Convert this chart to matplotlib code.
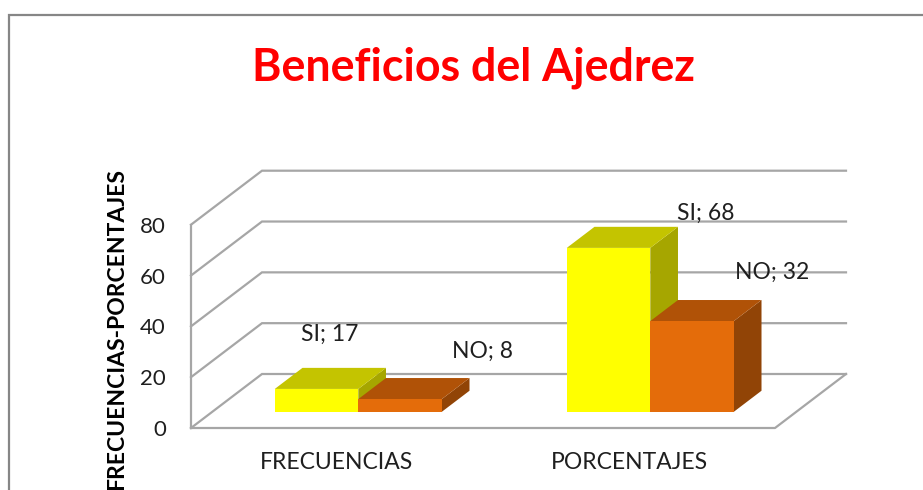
import matplotlib
matplotlib.use("Agg")
import matplotlib.pyplot as plt
from matplotlib.patches import Polygon, Rectangle

categories = ["FRECUENCIAS", "PORCENTAJES"]
series_names = ["SI", "NO"]
label_si = [17, 68]
label_no = [8, 32]
# heights as drawn in the picture (differ from the printed labels)
height_si = [9, 64.5]
height_no = [5, 35.7]
y_ticks = [0, 20, 40, 60, 80]

W, H = 923, 490
plt.rcParams["font.family"] = ["Lato", "Open Sans", "DejaVu Sans"]
fig = plt.figure(figsize=(W / 100, H / 100), dpi=100)
fig.patch.set_facecolor("white")

# Outer chart frame (runs off the right and bottom edges of the picture)
fig.add_artist(Rectangle((9 / W, -0.05), 1.05, 1.05 - 15 / H, transform=fig.transFigure,
                         fill=False, ec="#868686", lw=1.6))

L, R, B, T = 191, 775, 428, 224.7
ax = fig.add_axes([L / W, 1 - B / H, (R - L) / W, (B - T) / H])
ax.set_xlim(0, 2)
ax.set_ylim(0, 80)
ax.patch.set_visible(False)
for s in ax.spines.values():
    s.set_visible(False)

PX = (R - L) / 2
PY = (B - T) / 80
DX, DY = 71 / PX, 54 / PY


def proj(x, v, d):
    return (x + d * DX, v + d * DY)


grid = "#A6A6A6"
for v in y_ticks:
    pts = [proj(0, v, 0), proj(0, v, 1), proj(2, v, 1)]
    ax.plot(*zip(*pts), color=grid, lw=1.6, clip_on=False, zorder=1, solid_joinstyle="miter")
ax.plot(*zip(proj(0, 0, 0), proj(2, 0, 0), proj(2, 0, 1)), color=grid, lw=1.6, clip_on=False, zorder=1)
ax.plot([0, 0], [0, 80], color=grid, lw=1.6, clip_on=False, zorder=1)

bar_w = 0.286
d0, d1 = 0.30, 0.69


def bar3d(x0, h, front, top, side, z):
    x1 = x0 + bar_w
    ax.add_patch(Polygon([proj(x1, 0, d0), proj(x1, 0, d1), proj(x1, h, d1), proj(x1, h, d0)],
                         fc=side, ec="none", zorder=z, clip_on=False))
    ax.add_patch(Polygon([proj(x0, h, d0), proj(x1, h, d0), proj(x1, h, d1), proj(x0, h, d1)],
                         fc=top, ec="none", zorder=z, clip_on=False))
    ax.add_patch(Polygon([proj(x0, 0, d0), proj(x1, 0, d0), proj(x1, h, d0), proj(x0, h, d0)],
                         fc=front, ec="none", zorder=z, clip_on=False))


for i in range(len(categories)):
    bar3d(i + 0.5 - bar_w, height_si[i], "#FFFF00", "#C4C400", "#A6A600", 3)
    bar3d(i + 0.5, height_no[i], "#E46C0A", "#B05207", "#914406", 4)

txt = "#1F1F1F"
lab_off_si = [(0.117, 28.0), (0.406, 20.1)]
lab_off_no = [(0.355, 25.0), (0.347, 25.5)]
for i in range(len(categories)):
    dx, dv = lab_off_si[i]
    ax.text(i + 0.5 - bar_w / 2 + dx, height_si[i] + dv, f"{series_names[0]}; {label_si[i]}",
            ha="center", va="center", fontsize=16.5, color=txt, zorder=6, clip_on=False)
    dx, dv = lab_off_no[i]
    ax.text(i + 0.5 + bar_w / 2 + dx, height_no[i] + dv, f"{series_names[1]}; {label_no[i]}",
            ha="center", va="center", fontsize=16.5, color=txt, zorder=6, clip_on=False)

ax.set_yticks(y_ticks)
ax.set_yticklabels([str(v) for v in y_ticks], fontsize=16, color=txt)
ax.set_xticks([0.5, 1.5])
ax.set_xticklabels(categories, fontsize=16.5, color=txt)
ax.tick_params(axis="both", length=0)
ax.tick_params(axis="y", pad=18)
ax.tick_params(axis="x", pad=17)

fig.text(473 / W, 1 - 68 / H, "Beneficios del Ajedrez", color="#FF0000", fontsize=32.2,
         fontweight="bold", ha="center", va="center")
fig.text(117 / W, 1 - 329 / H, "FRECUENCIAS-PORCENTAJES", color="black", fontsize=16.5,
         fontweight="bold", rotation=90, ha="center", va="center")

fig.savefig("out.png", dpi=100)
